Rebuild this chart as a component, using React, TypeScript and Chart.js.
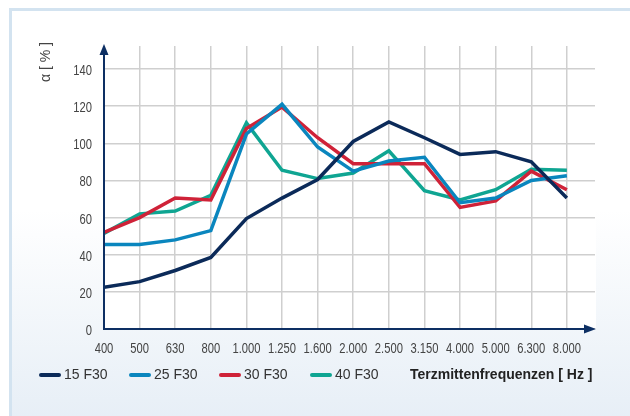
import React, { useEffect, useRef } from "react";
import { Chart, registerables } from "chart.js";

Chart.register(...registerables);

const categories = ["400", "500", "630", "800", "1.000", "1.250", "1.600", "2.000", "2.500", "3.150", "4.000", "5.000", "6.300", "8.000"];
const seriesNames = ["15 F30", "25 F30", "30 F30", "40 F30"];
const s15 = [22.5, 25.5, 31.5, 38.5, 59.5, 70.5, 80.5, 101, 111.5, 103, 94, 95.5, 90, 70.5];
const s25 = [45.5, 45.5, 48, 53, 105, 121, 98, 85, 90.5, 92.5, 68, 70.5, 80, 82.5];
const s30 = [52, 60, 70.5, 69.5, 108, 119.5, 103, 89, 89, 89, 65.5, 69, 85, 75];
const s40 = [51.5, 62, 63.5, 72, 111, 85.5, 81, 84, 96, 74.5, 69.5, 75, 86, 85.5];
const yTicks = [0, 20, 40, 60, 80, 100, 120, 140];
const yTitle = "α [ % ]";
const xTitle = "Terzmittenfrequenzen [ Hz ]";

const colors = ["#0b2a59", "#0a86be", "#cf2238", "#0fa592"];
const AXIS = "#0d2f63";
const TEXT_FONT = "'Liberation Sans', Arial, sans-serif";

const axesPlugin = {
  id: "axesPlugin",
  beforeDraw(chart: any) {
    const { ctx, chartArea } = chart;
    const { left, right, top, bottom } = chartArea;
    ctx.save();
    ctx.fillStyle = "#ffffff";
    ctx.fillRect(left, top - 1, right - left + 1, bottom - top + 1);
    ctx.restore();
  },
  afterDraw(chart: any) {
    const { ctx, chartArea, scales } = chart;
    const { left, right, top, bottom } = chartArea;
    ctx.save();
    ctx.strokeStyle = AXIS;
    ctx.fillStyle = AXIS;
    ctx.lineWidth = 2;
    ctx.beginPath();
    ctx.moveTo(left, bottom + 1);
    ctx.lineTo(left, top + 6);
    ctx.stroke();
    ctx.beginPath();
    ctx.moveTo(left - 1, bottom);
    ctx.lineTo(right - 8, bottom);
    ctx.stroke();
    ctx.beginPath();
    ctx.moveTo(left, top - 2);
    ctx.lineTo(left - 4.5, top + 9);
    ctx.lineTo(left + 4.5, top + 9);
    ctx.closePath();
    ctx.fill();
    ctx.beginPath();
    ctx.moveTo(right + 1, bottom);
    ctx.lineTo(right - 11, bottom - 4.5);
    ctx.lineTo(right - 11, bottom + 4.5);
    ctx.closePath();
    ctx.fill();

    // condensed tick labels
    ctx.fillStyle = "#444444";
    ctx.font = "14px 'Liberation Sans', Arial, sans-serif";
    ctx.textBaseline = "alphabetic";
    ctx.textAlign = "center";
    categories.forEach((c, i) => {
      const x = scales.x.getPixelForValue(i);
      ctx.save();
      ctx.translate(x, bottom + 24);
      ctx.scale(0.8, 1);
      ctx.fillText(c, 0, 0);
      ctx.restore();
    });
    ctx.textAlign = "right";
    yTicks.forEach((v) => {
      const y = scales.y.getPixelForValue(v);
      ctx.save();
      ctx.translate(left - 12, y + 6);
      ctx.scale(0.8, 1);
      ctx.fillText(String(v), 0, 0);
      ctx.restore();
    });
    ctx.restore();
  },
};

export default function App() {
  const ref = useRef<HTMLCanvasElement | null>(null);

  useEffect(() => {
    if (!ref.current) return;
    const series = [s15, s25, s30, s40];
    const chart = new Chart(ref.current, {
      type: "line",
      data: {
        datasets: series.map((s, i) => ({
          label: seriesNames[i],
          data: s.map((v, j) => ({ x: j, y: v })),
          borderColor: colors[i],
          backgroundColor: colors[i],
          borderWidth: 3.5,
          pointRadius: 0,
          tension: 0,
          fill: false,
        })),
      },
      options: {
        responsive: false,
        animation: false,
        devicePixelRatio: 1,
        layout: { padding: { left: 0, top: 46, right: 35, bottom: 0 } },
        plugins: { legend: { display: false }, tooltip: { enabled: false } },
        scales: {
          x: {
            type: "linear",
            min: 0,
            max: 13.79,
            afterFit: (scale: any) => {
              scale.height = 87;
            },
            border: { display: false },
            grid: { color: "#cfcfcf", lineWidth: 1.5, drawTicks: false },
            ticks: { display: false, stepSize: 1, includeBounds: false, autoSkip: false },
          },
          y: {
            min: 0,
            max: 152.4,
            afterFit: (scale: any) => {
              scale.width = 104;
            },
            border: { display: false },
            grid: { color: "#cfcfcf", lineWidth: 1.5, drawTicks: false },
            ticks: { display: false, stepSize: 20, includeBounds: false },
          },
        },
      },
      plugins: [axesPlugin],
    });
    return () => chart.destroy();
  }, []);

  const swatchLeft = [39, 129, 219, 310];

  return (
    <div style={{ position: "fixed", left: 0, top: 0, width: 630, height: 416, overflow: "hidden", background: "#ffffff" }}>
      <div
        style={{
          position: "absolute",
          left: 9,
          top: 8,
          width: 640,
          height: 420,
          boxSizing: "border-box",
          border: "3px solid #d3e3f0",
          background: "linear-gradient(to bottom, #ffffff 0%, #ffffff 48%, #e6eef6 100%)",
        }}
      />
      <canvas ref={ref} width={630} height={416} style={{ position: "absolute", left: 0, top: 0, width: 630, height: 416 }} />
      <div
        style={{
          position: "absolute",
          left: 45,
          top: 62,
          transform: "translate(-50%, -50%) rotate(-90deg)",
          whiteSpace: "nowrap",
          fontFamily: TEXT_FONT,
          fontSize: 14,
          color: "#444444",
        }}
      >
        {yTitle}
      </div>
      {seriesNames.map((n, i) => (
        <React.Fragment key={n}>
          <div
            style={{
              position: "absolute",
              left: swatchLeft[i],
              top: 373,
              width: 22,
              height: 4,
              borderRadius: 2,
              background: colors[i],
            }}
          />
          <div
            style={{
              position: "absolute",
              left: swatchLeft[i] + 25,
              top: 366,
              lineHeight: "16px",
              fontFamily: TEXT_FONT,
              fontSize: 14,
              color: "#333333",
              whiteSpace: "nowrap",
            }}
          >
            {n}
          </div>
        </React.Fragment>
      ))}
      <div
        style={{
          position: "absolute",
          left: 410,
          top: 366,
          lineHeight: "16px",
          fontFamily: TEXT_FONT,
          fontSize: 14,
          fontWeight: "bold",
          color: "#222222",
          whiteSpace: "nowrap",
        }}
      >
        {xTitle}
      </div>
    </div>
  );
}
